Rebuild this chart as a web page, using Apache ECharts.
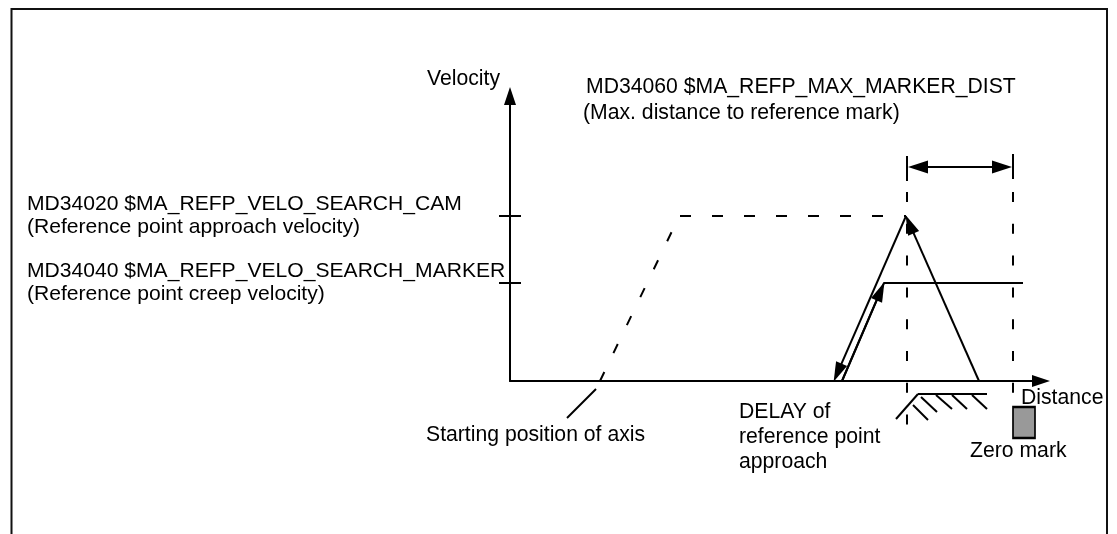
<!DOCTYPE html>
<html>
<head>
<meta charset="utf-8">
<style>
html, body { margin: 0; padding: 0; background: #fff; }
#main { width: 1117px; height: 534px; }
</style>
<script src="https://cdn.jsdelivr.net/npm/echarts@6/dist/echarts.min.js"></script>
</head>
<body>
<div id="main"></div>
<script>
var myChart = echarts.init(document.getElementById('main'));

// axis units: distance and velocity, origin at the axis crossing
var xMax = 531;
var yMax = 285;
var velocityTicks = [165, 98];
var velocityLabels = [
    'MD34020 $MA_REFP_VELO_SEARCH_CAM\n(Reference point approach velocity)',
    'MD34040 $MA_REFP_VELO_SEARCH_MARKER\n(Reference point creep velocity)'
];

// dashed approach ramp and hold
var approachRamp = [[90, 0], [165, 156]];
var approachHold = [[170, 165], [396, 165]];
// creep speed run after the ramp
var creepRun = [[332, 0], [374, 98], [513, 98]];

// arrows: the head is centred on the last point
var arrowRuns = [
    [[396, 165], [327.6, 8.3]],
    [[332, 0], [370.5, 89.7]],
    [[469, 0], [399.6, 156.8]]
];
var markerDistArrow = [[408, 214], [492, 214]];

var guideLines = [
    [[397, 189], [397, -44]],
    [[503, 189], [503, -12]]
];
var plainLines = [
    [[397, 225], [397, 200]],
    [[503, 227], [503, 202]],
    [[-11, 165], [11, 165]],
    [[-11, 98], [11, 98]],
    [[86, -8], [57, -37]],
    // cam
    [[408, -13], [477, -13]],
    [[408, -13], [386, -38]],
    [[403, -24], [418, -39]],
    [[411, -16], [427, -31]],
    [[426, -14], [442, -28]],
    [[442, -14], [457, -28]],
    [[462, -14], [477, -28]]
];
var zeroMark = [[514, -41.5]];

var noteAnchors = [[76, 294], [73, 268], [-84, -54], [229, -56.5], [460, -70]];
var noteTexts = [
    'MD34060 $MA_REFP_MAX_MARKER_DIST',
    '(Max. distance to reference mark)',
    'Starting position of axis',
    'DELAY of\nreference point\napproach',
    'Zero mark'
];

var fontName = '"Liberation Sans", Arial, sans-serif';
var fontPx = 21.2;
var inkColor = '#000';

function toLines(list) {
    return list.map(function (item) {
        return { coords: item };
    });
}

var option = {
    backgroundColor: '#fff',
    animation: false,
    graphic: [{
        type: 'polyline',
        silent: true,
        shape: { points: [[11.5, 540], [11.5, 9], [1107, 9], [1107, 540]] },
        style: { fill: null, stroke: '#111', lineWidth: 2 }
    }],
    grid: { left: 510, right: 76, top: 96, bottom: 153 },
    xAxis: {
        type: 'value',
        min: 0,
        max: xMax,
        name: 'Distance',
        nameLocation: 'end',
        nameGap: -20,
        nameMoveOverlap: false,
        nameTextStyle: {
            color: inkColor,
            fontFamily: fontName,
            fontSize: fontPx,
            align: 'left',
            verticalAlign: 'top',
            padding: [7, 0, 0, 0]
        },
        axisLine: {
            symbol: ['none', 'triangle'],
            symbolSize: [12, 18],
            lineStyle: { color: inkColor, width: 2 }
        },
        axisTick: { show: false },
        axisLabel: { show: false },
        splitLine: { show: false }
    },
    yAxis: {
        type: 'value',
        min: 0,
        max: yMax,
        name: 'Velocity',
        nameLocation: 'end',
        nameGap: 6,
        nameMoveOverlap: false,
        nameTextStyle: {
            color: inkColor,
            fontFamily: fontName,
            fontSize: fontPx,
            align: 'right',
            padding: [0, 10, 0, 0]
        },
        axisLine: {
            symbol: ['none', 'triangle'],
            symbolSize: [12, 18],
            lineStyle: { color: inkColor, width: 2 }
        },
        axisTick: { show: false },
        axisLabel: {
            show: true,
            customValues: velocityTicks,
            margin: 483,
            align: 'left',
            color: inkColor,
            fontFamily: fontName,
            fontSize: 21.1,
            lineHeight: 23,
            formatter: function (v) {
                return velocityLabels[velocityTicks.indexOf(v)];
            }
        },
        splitLine: { show: false }
    },
    series: [
        {
            type: 'line',
            data: approachRamp,
            clip: false,
            showSymbol: false,
            lineStyle: { color: inkColor, width: 2, type: [10, 21] }
        },
        {
            type: 'line',
            data: approachHold,
            clip: false,
            showSymbol: false,
            lineStyle: { color: inkColor, width: 2, type: [11, 21] }
        },
        {
            type: 'line',
            data: creepRun,
            clip: false,
            showSymbol: false,
            lineStyle: { color: inkColor, width: 2 }
        },
        {
            type: 'lines',
            coordinateSystem: 'cartesian2d',
            clip: false,
            symbol: ['none', 'triangle'],
            symbolSize: [[12, 20], [12, 20]],
            lineStyle: { color: inkColor, width: 2, opacity: 1 },
            data: toLines(arrowRuns)
        },
        {
            type: 'lines',
            coordinateSystem: 'cartesian2d',
            clip: false,
            symbol: ['triangle', 'triangle'],
            symbolSize: [[13, 20], [13, 20]],
            lineStyle: { color: inkColor, width: 2, opacity: 1 },
            data: toLines([markerDistArrow])
        },
        {
            type: 'lines',
            coordinateSystem: 'cartesian2d',
            clip: false,
            symbol: 'none',
            lineStyle: { color: inkColor, width: 2, opacity: 1, type: [10, 21.8] },
            data: toLines(guideLines)
        },
        {
            type: 'lines',
            coordinateSystem: 'cartesian2d',
            clip: false,
            symbol: 'none',
            lineStyle: { color: inkColor, width: 2, opacity: 1 },
            data: toLines(plainLines)
        },
        {
            type: 'scatter',
            clip: false,
            symbol: 'rect',
            symbolSize: [22, 31],
            itemStyle: { color: '#999', borderColor: inkColor, borderWidth: 2, opacity: 1 },
            data: zeroMark
        },
        {
            type: 'scatter',
            clip: false,
            symbolSize: 0,
            itemStyle: { opacity: 1 },
            data: noteAnchors,
            label: {
                show: true,
                position: 'right',
                distance: 0,
                color: inkColor,
                fontFamily: fontName,
                fontSize: fontPx,
                lineHeight: 25,
                align: 'left',
                formatter: function (p) {
                    return noteTexts[p.dataIndex];
                }
            }
        }
    ]
};

myChart.setOption(option);
</script>
</body>
</html>
